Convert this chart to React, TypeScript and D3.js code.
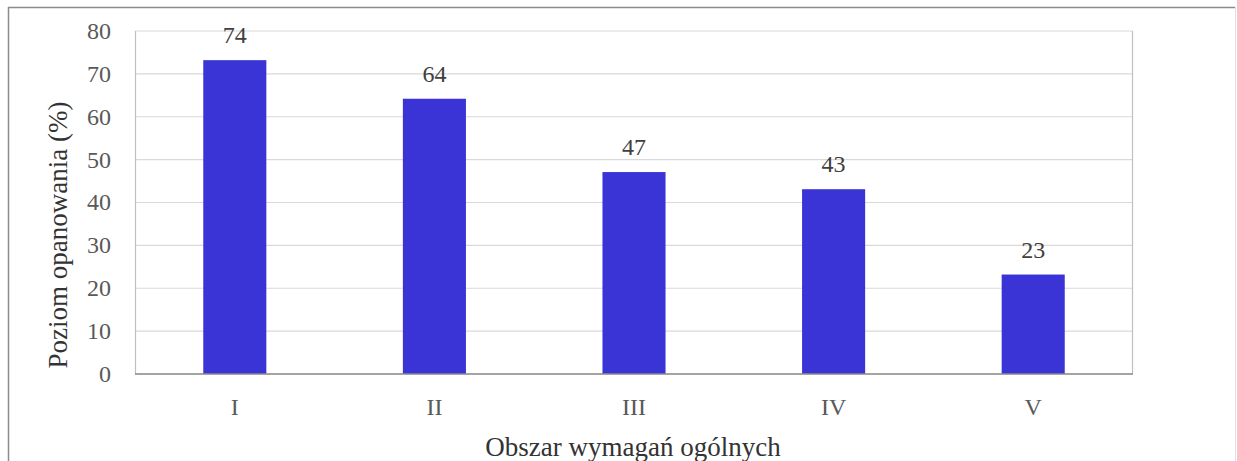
import React from "react"
import * as d3 from "d3"

// Data
const categories = ["I", "II", "III", "IV", "V"]
const values = [73.2, 64.2, 47.1, 43.1, 23.2]
const valueLabels = ["74", "64", "47", "43", "23"]
const yTicks = [0, 10, 20, 30, 40, 50, 60, 70, 80]

const font = "Liberation Serif"

const App = () => {
  const totalW = 1237
  const totalH = 461
  const margin = { top: 31, bottom: 87, left: 135, right: 104 }
  const w = totalW - margin.left - margin.right
  const h = totalH - margin.top - margin.bottom

  const xScale = d3
    .scaleBand()
    .domain(categories)
    .range([0, w])
    .paddingInner(0.684)
    .paddingOuter(0.342)
  const yScale = d3.scaleLinear().domain([0, 80]).range([h, 0])

  const textColor = "#595959"

  return (
    <svg
      width={totalW}
      height={totalH}
      fontFamily={font}
      style={{ position: "absolute", left: 0, top: 0 }}
    >
      <rect width={totalW} height={totalH} fill="white" />
      {/* outer frame */}
      <line x1={8} x2={1235} y1={7.5} y2={7.5} stroke="#8c8c8c" strokeWidth={1.5} />
      <line x1={8.5} x2={8.5} y1={7} y2={totalH} stroke="#8c8c8c" strokeWidth={1.5} />
      <line x1={1235.5} x2={1235.5} y1={7} y2={totalH} stroke="#e0e0e0" strokeWidth={1} />

      <g transform={`translate(${margin.left}, ${margin.top})`}>
        {yTicks.map((t) => (
          <line
            key={`grid-${t}`}
            x1={0}
            x2={w}
            y1={yScale(t)}
            y2={yScale(t)}
            stroke="#d9d9d9"
            strokeWidth={1.2}
          />
        ))}
        <line x1={0.5} x2={0.5} y1={0} y2={h} stroke="#bfbfbf" strokeWidth={1.2} />
        <line x1={w - 0.5} x2={w - 0.5} y1={0} y2={h} stroke="#bfbfbf" strokeWidth={1.2} />

        {values.map((d, i) => (
          <rect
            key={`bar-${i}`}
            x={xScale(categories[i])}
            y={yScale(d)}
            width={xScale.bandwidth()}
            height={h - yScale(d)}
            fill="#3a34d6"
          />
        ))}
        <line x1={0} x2={w} y1={h} y2={h} stroke="#8c8c8c" strokeWidth={1.5} />

        {values.map((d, i) => (
          <text
            key={`label-${i}`}
            x={(xScale(categories[i]) as number) + xScale.bandwidth() / 2}
            y={yScale(d) - 17}
            fontFamily={font}
            fontSize="24px"
            fill="#404040"
            textAnchor="middle"
          >
            {valueLabels[i]}
          </text>
        ))}

        {yTicks.map((t) => (
          <text
            key={`ytick-${t}`}
            x={-24}
            y={yScale(t)}
            dy="0.33em"
            fontFamily={font}
            fontSize="24px"
            fill={textColor}
            textAnchor="end"
          >
            {t}
          </text>
        ))}

        {categories.map((c) => (
          <text
            key={`xtick-${c}`}
            x={(xScale(c) as number) + xScale.bandwidth() / 2}
            y={h + 41}
            fontFamily={font}
            fontSize="24px"
            fill={textColor}
            textAnchor="middle"
          >
            {c}
          </text>
        ))}
      </g>

      <text
        x={633}
        y={456}
        fontFamily={font}
        fontSize="27px"
        fill="#333333"
        textAnchor="middle"
      >
        Obszar wymagań ogólnych
      </text>
      <text
        transform={`translate(67, 235) rotate(-90)`}
        fontFamily={font}
        fontSize="27px"
        fill="#333333"
        textAnchor="middle"
      >
        Poziom opanowania (%)
      </text>
    </svg>
  )
}

export default App
